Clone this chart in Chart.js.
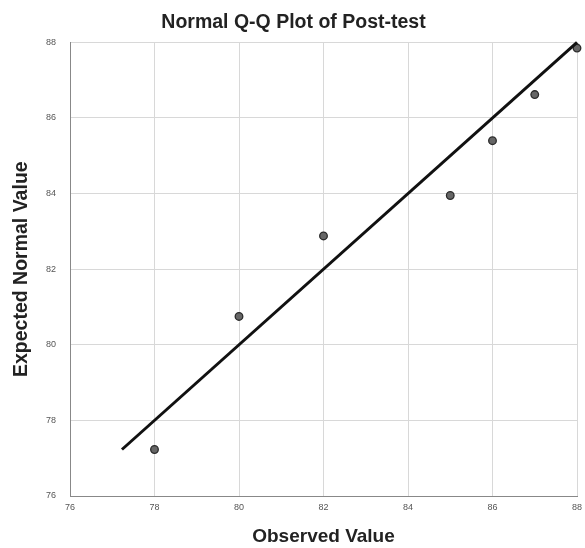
<!DOCTYPE html>
<html>
<head>
<meta charset="utf-8">
<script src="https://cdn.jsdelivr.net/npm/chart.js@4"></script>
<style>
  html, body { margin: 0; padding: 0; background: #fff; }
  #wrap { width: 585px; height: 548px; }
</style>
</head>
<body>
<div id="wrap"><canvas id="qq"></canvas></div>
<script>
// values
const observed = [78, 80, 82, 85, 86, 87, 88];
const expected = [77.23, 80.75, 82.88, 83.95, 85.4, 86.62, 87.85];
const refLine = [77.23, 88];
const ticks = [76, 78, 80, 82, 84, 86, 88];

const pts = observed.map((x, i) => ({ x: x, y: expected[i] }));
const linePts = refLine.map(v => ({ x: v, y: v }));

const font = "'Liberation Sans', Arial, sans-serif";

new Chart(document.getElementById('qq'), {
  type: 'scatter',
  data: {
    datasets: [
      {
        type: 'line',
        data: linePts,
        borderColor: '#111',
        borderWidth: 3,
        pointRadius: 0,
        fill: false,
        clip: false
      },
      {
        data: pts,
        pointRadius: 3.8,
        pointBackgroundColor: '#666',
        pointBorderColor: '#2a2a2a',
        pointBorderWidth: 1.3,
        clip: false
      }
    ]
  },
  options: {
    responsive: true,
    maintainAspectRatio: false,
    animation: false,
    layout: { padding: { left: 10, right: 8, top: 0, bottom: 0 } },
    plugins: {
      legend: { display: false },
      tooltip: { enabled: false },
      title: {
        display: true,
        text: 'Normal Q-Q Plot of Post-test',
        color: '#222',
        font: { family: font, size: 19.5, weight: 'bold' },
        padding: { top: 11, bottom: 8 }
      }
    },
    scales: {
      x: {
        type: 'linear',
        min: 76, max: 88,
        afterBuildTicks: s => { s.ticks = ticks.map(v => ({ value: v })); },
        afterFit: s => { s.height = 52; s.paddingRight = 0; s.paddingLeft = 0; },
        grid: { color: '#d8d8d8', drawTicks: false },
        border: { color: '#888', width: 1 },
        ticks: { color: '#555', font: { family: font, size: 9 }, padding: 6 },
        title: {
          display: true,
          text: 'Observed Value',
          color: '#222',
          font: { family: font, size: 19, weight: 'bold' },
          padding: { top: 0, bottom: 0 }
        }
      },
      y: {
        type: 'linear',
        min: 76, max: 88,
        afterBuildTicks: s => { s.ticks = ticks.map(v => ({ value: v })); },
        afterFit: s => { s.width = 60; },
        grid: { color: '#d8d8d8', drawTicks: false },
        border: { color: '#888', width: 1 },
        ticks: { color: '#555', font: { family: font, size: 9 }, padding: 14 },
        title: {
          display: true,
          text: 'Expected Normal Value',
          color: '#222',
          font: { family: font, size: 19.5, weight: 'bold' },
          padding: { top: 0, bottom: 0 }
        }
      }
    }
  }
});
</script>
</body>
</html>
